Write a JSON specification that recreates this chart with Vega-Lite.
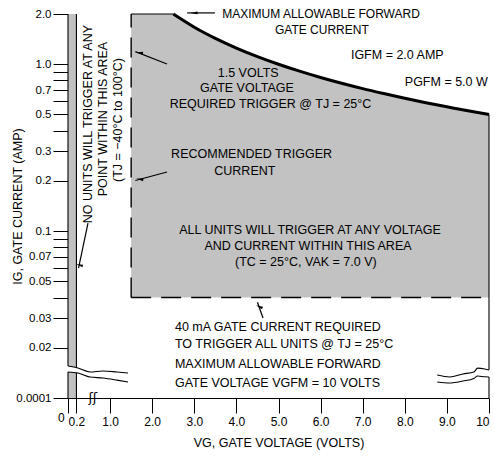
{
  "$schema": "https://vega.github.io/schema/vega-lite/v6.json",
  "width": 421,
  "height": 384,
  "autosize": {"type": "none"},
  "padding": {"left": 68, "top": 14, "right": 5, "bottom": 63},
  "background": "white",
  "config": {
    "view": {"stroke": null},
    "font": "Liberation Sans",
    "axis": {"grid": false, "tickColor": "black", "domainColor": "black", "labelColor": "black", "titleColor": "black", "labelFont": "Liberation Sans", "titleFont": "Liberation Sans", "titleFontWeight": "normal", "labelOverlap": false, "labelFlush": false, "labelBound": false}
  },
  "resolve": {"axis": {"x": "independent", "y": "independent"}},
  "datasets": {
    "waves": [
      {"side": "L", "v": 0, "up": 0.01555, "lo": 0.01431},
      {"side": "L", "v": 0.238, "up": 0.01512, "lo": 0.01412},
      {"side": "L", "v": 0.523, "up": 0.01431, "lo": 0.01336},
      {"side": "L", "v": 0.831, "up": 0.01451, "lo": 0.01318},
      {"side": "L", "v": 1.164, "up": 0.01431, "lo": 0.0128},
      {"side": "L", "v": 1.425, "up": 0.01412, "lo": 0.01247},
      {"side": "R", "v": 8.77, "up": 0.01373, "lo": 0.01247},
      {"side": "R", "v": 9.07, "up": 0.01336, "lo": 0.0123},
      {"side": "R", "v": 9.38, "up": 0.01393, "lo": 0.01264},
      {"side": "R", "v": 9.64, "up": 0.01431, "lo": 0.0131},
      {"side": "R", "v": 9.73, "up": 0.0151, "lo": 0.01354},
      {"side": "R", "v": 9.9, "up": 0.01492, "lo": 0.0134},
      {"side": "R", "v": 10, "up": 0.01471, "lo": 0.01336}
    ],
    "arrows": [
      {"id": "a1", "v1": 3.49, "i1": 2.03, "v2": 2.83, "i2": 2.03, "hv": 2.993, "hi": 2.03},
      {"id": "a2", "v1": 2.352, "i1": 1.003, "v2": 1.6, "i2": 1.19, "hv": 1.698, "hi": 1.172},
      {"id": "a3", "v1": 2.352, "i1": 0.226, "v2": 1.6, "i2": 0.201, "hv": 1.705, "hi": 0.2046},
      {"id": "a4", "v1": 0.475, "i1": 0.1118, "v2": 0.25, "i2": 0.06, "hv": 0.271, "hi": 0.0626},
      {"id": "a5", "v1": 4.632, "i1": 0.03015, "v2": 4.5, "i2": 0.0375, "hv": 4.542, "hi": 0.03528}
    ]
  },
  "layer": [
    {
      "data": {"values": [
        {"v": 1.5, "i": 2.0}, {"v": 2.5, "i": 2.0}, {"v": 3.0, "i": 1.667}, {"v": 3.5, "i": 1.429},
        {"v": 4.0, "i": 1.25}, {"v": 4.5, "i": 1.111}, {"v": 5.0, "i": 1.0}, {"v": 5.5, "i": 0.909},
        {"v": 6.0, "i": 0.833}, {"v": 6.5, "i": 0.769}, {"v": 7.0, "i": 0.714}, {"v": 7.5, "i": 0.667},
        {"v": 8.0, "i": 0.625}, {"v": 8.5, "i": 0.588}, {"v": 9.0, "i": 0.556}, {"v": 9.5, "i": 0.526},
        {"v": 10.0, "i": 0.5}
      ]},
      "mark": {"type": "area", "color": "#c2c2c2"},
      "encoding": {
        "x": {"field": "v", "type": "quantitative", "scale": {"domain": [0, 10], "nice": false, "zero": false},
          "axis": {"values": [0, 0.2, 1, 2, 3, 4, 5, 6, 7, 8, 9, 10], "labelExpr": "datum.value == 0 ? '' : datum.value == 10 ? '10' : format(datum.value, '.1f')", "labelAlign": {"condition": {"test": "datum.value == 10", "value": "right"}, "value": "center"}, "tickSize": 15, "labelPadding": 3, "labelFontSize": 12, "domain": true, "title": "VG, GATE VOLTAGE (VOLTS)", "titleFontSize": 12.5, "titlePadding": 9}},
        "y": {"field": "i", "type": "quantitative", "scale": {"type": "log", "domain": [0.01, 2], "nice": false},
          "axis": {"values": [2, 1, 0.9, 0.8, 0.7, 0.6, 0.5, 0.4, 0.3, 0.2, 0.1, 0.09, 0.08, 0.07, 0.06, 0.05, 0.04, 0.03, 0.02, 0.01], "labelExpr": "datum.value == 0.01 ? '0.0001' : indexof([0.9, 0.8, 0.6, 0.4, 0.09, 0.08, 0.06, 0.04], datum.value) >= 0 ? '' : datum.value >= 1 ? format(datum.value, '.1f') : '' + datum.value", "tickSize": 15, "labelPadding": 2, "labelFontSize": 11.5, "domain": false, "title": "IG, GATE CURRENT (AMP)", "titleFontSize": 12.5, "titlePadding": -9}},
        "y2": {"datum": 0.04}
      }
    },
    {
      "data": {"values": [{"v": 0, "i": 2.0}, {"v": 0.2, "i": 2.0}]},
      "mark": {"type": "area", "color": "#c2c2c2"},
      "encoding": {
        "x": {"field": "v", "type": "quantitative", "axis": null},
        "y": {"field": "i", "type": "quantitative", "axis": null},
        "y2": {"datum": 0.01}
      }
    },
    {
      "data": {"name": "waves"},
      "mark": {"type": "area", "color": "white"},
      "encoding": {
        "x": {"field": "v", "type": "quantitative", "axis": null},
        "y": {"field": "up", "type": "quantitative", "axis": null},
        "y2": {"field": "lo"},
        "detail": {"field": "side"}
      }
    },
    {
      "data": {"name": "waves"},
      "transform": [{"fold": ["up", "lo"], "as": ["k", "val"]}],
      "mark": {"type": "line", "color": "black", "strokeWidth": 1.1, "interpolate": "monotone"},
      "encoding": {
        "x": {"field": "v", "type": "quantitative", "axis": null},
        "y": {"field": "val", "type": "quantitative", "axis": null},
        "detail": [{"field": "side"}, {"field": "k"}]
      }
    },
    {
      "data": {"values": [
        {"v1": 0, "i1": 2.0, "v2": 0, "i2": 0.01555},
        {"v1": 0, "i1": 0.01431, "v2": 0, "i2": 0.01},
        {"v1": 0.2, "i1": 2.0, "v2": 0.2, "i2": 0.0152},
        {"v1": 0.2, "i1": 0.01416, "v2": 0.2, "i2": 0.01},
        {"v1": 10, "i1": 0.5, "v2": 10, "i2": 0.01471},
        {"v1": 10, "i1": 0.01336, "v2": 10, "i2": 0.01},
        {"v1": 1.5, "i1": 2.0, "v2": 2.5, "i2": 2.0}
      ]},
      "mark": {"type": "rule", "color": "black", "strokeWidth": 1.1},
      "encoding": {
        "x": {"field": "v1", "type": "quantitative", "axis": null},
        "y": {"field": "i1", "type": "quantitative", "axis": null},
        "x2": {"field": "v2"},
        "y2": {"field": "i2"}
      }
    },
    {
      "data": {"values": [
        {"v1": 1.5, "i1": 0.04, "v2": 1.5, "i2": 2.0},
        {"v1": 1.5, "i1": 0.04, "v2": 10, "i2": 0.04}
      ]},
      "mark": {"type": "rule", "color": "black", "strokeWidth": 1.4, "strokeDash": [20, 10]},
      "encoding": {
        "x": {"field": "v1", "type": "quantitative", "axis": null},
        "y": {"field": "i1", "type": "quantitative", "axis": null},
        "x2": {"field": "v2"},
        "y2": {"field": "i2"}
      }
    },
    {
      "data": {"values": [
        {"v": 2.5, "i": 2.0}, {"v": 3.0, "i": 1.667}, {"v": 3.5, "i": 1.429}, {"v": 4.0, "i": 1.25},
        {"v": 4.5, "i": 1.111}, {"v": 5.0, "i": 1.0}, {"v": 5.5, "i": 0.909}, {"v": 6.0, "i": 0.833},
        {"v": 6.5, "i": 0.769}, {"v": 7.0, "i": 0.714}, {"v": 7.5, "i": 0.667}, {"v": 8.0, "i": 0.625},
        {"v": 8.5, "i": 0.588}, {"v": 9.0, "i": 0.556}, {"v": 9.5, "i": 0.526}, {"v": 10.0, "i": 0.5}
      ]},
      "mark": {"type": "line", "color": "black", "strokeWidth": 3, "interpolate": "monotone"},
      "encoding": {
        "x": {"field": "v", "type": "quantitative", "axis": null},
        "y": {"field": "i", "type": "quantitative", "axis": null}
      }
    },
    {
      "data": {"name": "arrows"},
      "mark": {"type": "rule", "color": "black", "strokeWidth": 1.2},
      "encoding": {
        "x": {"field": "v1", "type": "quantitative", "axis": null},
        "y": {"field": "i1", "type": "quantitative", "axis": null},
        "x2": {"field": "v2"},
        "y2": {"field": "i2"}
      }
    },
    {
      "data": {"name": "arrows"},
      "mark": {"type": "point", "shape": "M0,-1L0.38,1L-0.38,1Z", "filled": true, "color": "black", "opacity": 1, "size": 50},
      "encoding": {
        "x": {"field": "hv", "type": "quantitative", "axis": null},
        "y": {"field": "hi", "type": "quantitative", "axis": null},
        "angle": {"field": "id", "type": "nominal", "scale": {"domain": ["a1", "a2", "a3", "a4", "a5"], "range": [270, 292, 255, 191.5, 341.6]}, "legend": null}
      }
    },
    {
      "data": {"values": [
        {"v": 6.01, "i": 2.0, "t": "MAXIMUM ALLOWABLE FORWARD"},
        {"v": 6.03, "i": 1.603, "t": "GATE CURRENT"}
      ]},
      "mark": {"type": "text", "align": "center", "baseline": "middle", "fontSize": 12, "color": "black"},
      "encoding": {
        "x": {"field": "v", "type": "quantitative", "axis": null},
        "y": {"field": "i", "type": "quantitative", "axis": null},
        "text": {"field": "t"}
      }
    },
    {
      "data": {"values": [
        {"v": 6.72, "i": 1.135, "t": "IGFM = 2.0 AMP"},
        {"v": 8.0, "i": 0.782, "t": "PGFM = 5.0 W"},
        {"v": 2.54, "i": 0.02664, "t": "40 mA GATE CURRENT REQUIRED"},
        {"v": 2.54, "i": 0.02106, "t": "TO TRIGGER ALL UNITS @ TJ = 25°C"},
        {"v": 2.54, "i": 0.01598, "t": "MAXIMUM ALLOWABLE FORWARD"},
        {"v": 2.54, "i": 0.0123, "t": "GATE VOLTAGE VGFM = 10 VOLTS"}
      ]},
      "mark": {"type": "text", "align": "left", "baseline": "middle", "fontSize": 12.5, "color": "black"},
      "encoding": {
        "x": {"field": "v", "type": "quantitative", "axis": null},
        "y": {"field": "i", "type": "quantitative", "axis": null},
        "text": {"field": "t"}
      }
    },
    {
      "data": {"values": [
        {"v": 4.28, "i": 0.886, "t": "1.5 VOLTS"},
        {"v": 4.25, "i": 0.72, "t": "GATE VOLTAGE"},
        {"v": 4.81, "i": 0.577, "t": "REQUIRED TRIGGER @ TJ = 25°C"},
        {"v": 4.36, "i": 0.2897, "t": "RECOMMENDED TRIGGER"},
        {"v": 4.2, "i": 0.229, "t": "CURRENT"},
        {"v": 5.75, "i": 0.1015, "t": "ALL UNITS WILL TRIGGER AT ANY VOLTAGE"},
        {"v": 5.7, "i": 0.0814, "t": "AND CURRENT WITHIN THIS AREA"},
        {"v": 5.65, "i": 0.0653, "t": "(TC = 25°C, VAK = 7.0 V)"}
      ]},
      "mark": {"type": "text", "align": "center", "baseline": "middle", "fontSize": 12.5, "color": "black"},
      "encoding": {
        "x": {"field": "v", "type": "quantitative", "axis": null},
        "y": {"field": "i", "type": "quantitative", "axis": null},
        "text": {"field": "t"}
      }
    },
    {
      "data": {"values": [
        {"v": 0.475, "i": 0.438, "t": "NO UNITS WILL TRIGGER AT ANY"},
        {"v": 0.831, "i": 0.4696, "t": "POINT WITHIN THIS AREA"},
        {"v": 1.188, "i": 0.463, "t": "(TJ = −40°C to 100°C)"}
      ]},
      "mark": {"type": "text", "align": "center", "baseline": "middle", "fontSize": 12.5, "angle": 270, "color": "black"},
      "encoding": {
        "x": {"field": "v", "type": "quantitative", "axis": null},
        "y": {"field": "i", "type": "quantitative", "axis": null},
        "text": {"field": "t"}
      }
    },
    {
      "data": {"values": [
        {"v": -0.16, "i": 0.0076, "t": "0"}
      ]},
      "mark": {"type": "text", "align": "center", "baseline": "middle", "fontSize": 12, "color": "black"},
      "encoding": {
        "x": {"field": "v", "type": "quantitative", "axis": null},
        "y": {"field": "i", "type": "quantitative", "axis": null},
        "text": {"field": "t"}
      }
    },
    {
      "data": {"values": [
        {"v": 0.59, "i": 0.01, "t": "ʃʃ"}
      ]},
      "mark": {"type": "text", "align": "center", "baseline": "middle", "fontSize": 13, "font": "DejaVu Sans", "color": "black"},
      "encoding": {
        "x": {"field": "v", "type": "quantitative", "axis": null},
        "y": {"field": "i", "type": "quantitative", "axis": null},
        "text": {"field": "t"}
      }
    }
  ]
}
